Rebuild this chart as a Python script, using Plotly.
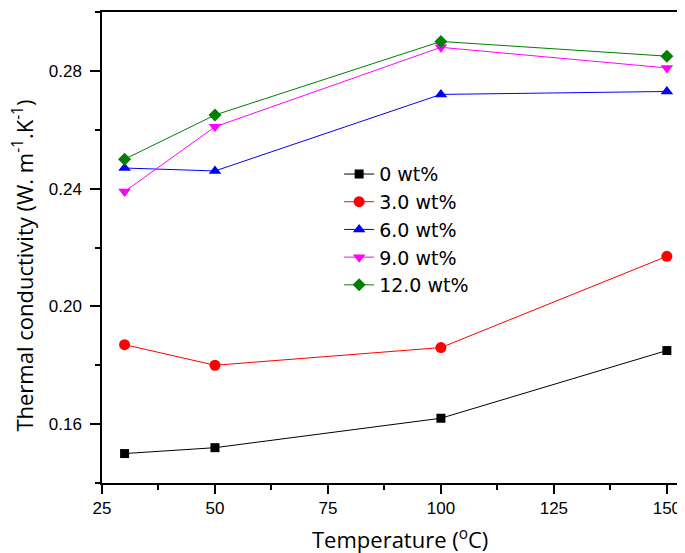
import plotly.graph_objects as go

temperature = [30, 50, 100, 150]
series_names = ["0 wt%", "3.0 wt%", "6.0 wt%", "9.0 wt%", "12.0 wt%"]
k_0 = [0.150, 0.152, 0.162, 0.185]
k_3 = [0.187, 0.180, 0.186, 0.217]
k_6 = [0.247, 0.246, 0.272, 0.273]
k_9 = [0.239, 0.261, 0.288, 0.281]
k_12 = [0.250, 0.265, 0.290, 0.285]

series_values = [k_0, k_3, k_6, k_9, k_12]
colors = ["#000000", "#FF0000", "#0000FF", "#FF00FF", "#008000"]
symbols = ["square", "circle", "triangle-up", "triangle-down", "diamond"]
sizes = [9, 11, 11, 11, 10]

fig = go.Figure()
for name, vals, c, s, sz in zip(series_names, series_values, colors, symbols, sizes):
    fig.add_trace(go.Scatter(
        x=temperature, y=vals, name=name, mode="lines+markers",
        line=dict(color=c, width=1),
        marker=dict(color=c, symbol=s, size=sz, line=dict(width=0)),
    ))

axis_common = dict(
    showline=True, linecolor="black", linewidth=1.5, mirror=True,
    ticks="outside", tickwidth=1.5, tickcolor="black",
    showgrid=False, zeroline=False,
    tickfont=dict(family="Liberation Sans, Arial", size=17, color="black"),
)

title_font = dict(family="Open Sans", size=22, color="black")

fig.update_layout(
    width=685, height=553,
    margin=dict(l=94, r=4, t=2, b=78),
    paper_bgcolor="white", plot_bgcolor="white",
    showlegend=True,
    legend=dict(
        x=0.404, y=0.696, xanchor="left", yanchor="top",
        bgcolor="rgba(0,0,0,0)", borderwidth=0,
        font=dict(family="DejaVu Sans", size=19, color="black"),
        tracegroupgap=0,
    ),
    xaxis=dict(
        range=[25, 154.9], tick0=25, dtick=25, ticklen=9, ticklabelstandoff=0,
        minor=dict(ticks="outside", ticklen=5, dtick=12.5, tickcolor="black", tickwidth=1.5),
        **axis_common,
    ),
    yaxis=dict(
        range=[0.14, 0.30], tick0=0.16, dtick=0.04, tickformat=".2f", ticklen=10, ticklabelstandoff=5,
        minor=dict(ticks="outside", ticklen=5, dtick=0.02, tickcolor="black", tickwidth=1.5),
        **axis_common,
    ),
    annotations=[
        dict(
            text="Thermal conductivity (W. m<sup>-1</sup>.K<sup>-1</sup>)",
            xref="paper", yref="paper", x=-0.1346, y=0.4615,
            xanchor="center", yanchor="middle", textangle=-90, showarrow=False,
            font=title_font,
        ),
        dict(
            text="Temperature (<sup>o</sup>C)",
            xref="paper", yref="paper", x=0.507, y=-0.117,
            xanchor="center", yanchor="middle", showarrow=False,
            font=title_font,
        ),
    ],
)

fig.write_html("out.html")
